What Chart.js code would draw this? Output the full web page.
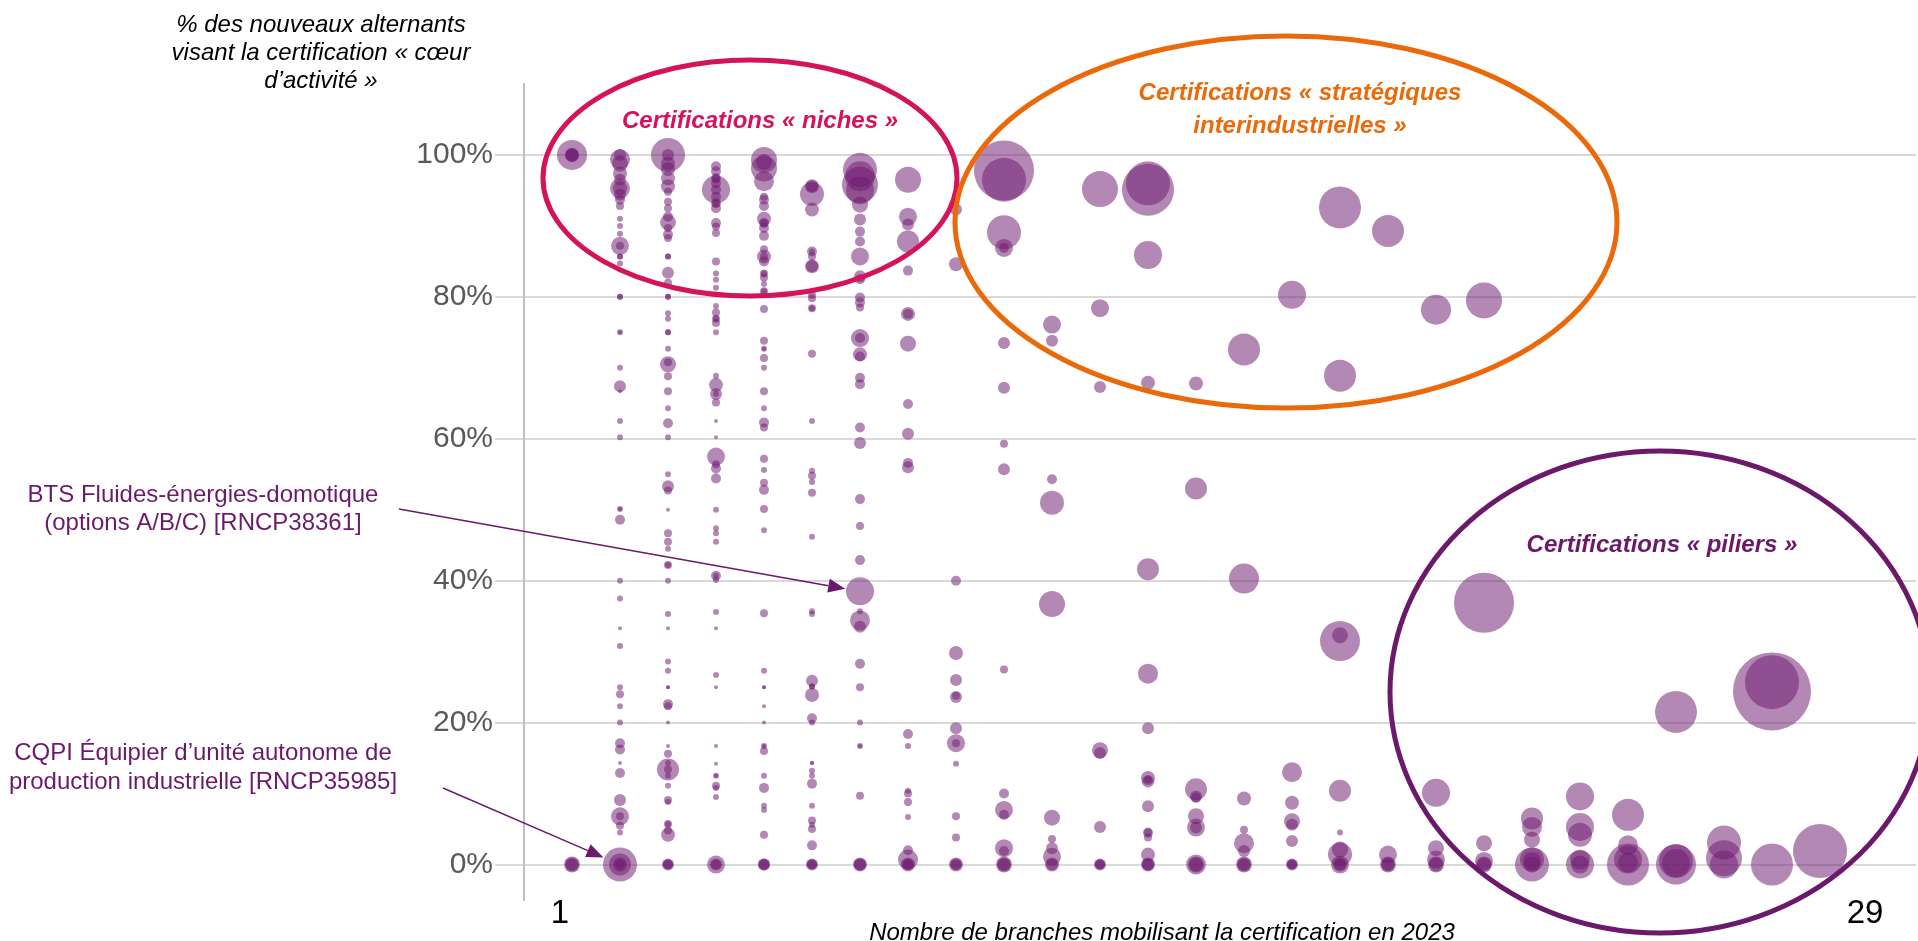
<!DOCTYPE html>
<html lang="fr">
<head>
<meta charset="utf-8">
<title>Certifications par nombre de branches</title>
<script src="https://cdn.jsdelivr.net/npm/chart.js@4.4.1/dist/chart.umd.min.js"></script>
<style>
  html, body { margin: 0; padding: 0; background: #fff; overflow: hidden; }
  canvas { display: block; }
</style>
</head>
<body>
<canvas id="bubbleChart" width="1918" height="941"></canvas>
<script>
// nombre de branches mobilisant la certification (axe x)
const branchCounts = [1, 2, 3, 4, 5, 6, 7, 8, 9, 10, 11, 12, 13, 14, 15, 16, 17, 18, 19, 20, 21, 22, 23, 24, 25, 26, 27];

// part des nouveaux alternants visant la certification « coeur d'activité » (%), une ligne par colonne
const shares = [
    [100, 100, 100, 100, 0, 0, 0],
    [99.4, 98.8, 100, 97.4, 96.5, 95.3, 95.3, 94.4, 93.7, 92.8, 91, 90, 88.9, 87.2, 87.2, 85.7, 85.7, 84.7, 80, 80, 75, 75, 70, 67.4, 66.7, 62.5, 60.2, 50.1, 50.1, 48.6, 40, 37.5, 33.3, 30.8, 25, 24, 22.3, 20, 17.1, 16.2, 14.3, 12.9, 9.1, 6.8, 6.8, 5.5, 4.5, 0, 0, 0, 0],
    [100, 100, 98.8, 98, 96.7, 95.6, 94.8, 93.4, 92.5, 91.3, 90.5, 89.7, 88.8, 88.3, 85.7, 85.7, 83.4, 82, 80, 80, 77.7, 76.9, 75, 75, 72.7, 70.5, 70.8, 68.8, 66.7, 64.3, 62.2, 60.2, 55, 53.3, 52.7, 50, 46.7, 45.5, 44.5, 42.2, 42.2, 40, 35.3, 33.3, 28.6, 27.3, 25, 25, 22.6, 22.3, 20, 16.7, 15.6, 13.4, 13.4, 14.3, 12.5, 11.1, 9.1, 8.8, 5.7, 5.7, 4.8, 4.2, 0, 0, 0],
    [98.4, 97.7, 96.7, 96.7, 96, 95.1, 95.1, 94.1, 93.2, 93.2, 92.5, 90.4, 89.9, 89, 85, 83.3, 82.4, 81.3, 78.7, 77.8, 76.9, 76.9, 76.3, 75, 68.9, 67.6, 66.3, 66.3, 65.1, 62.5, 60.2, 57.5, 56.4, 55.8, 54.4, 50, 47.4, 46.7, 45.5, 40.7, 40.7, 40.1, 35.6, 33.3, 26.7, 25, 16.7, 14.2, 12.5, 12.5, 11.1, 10.8, 9.5, 0, 0, 0],
    [99.3, 98.1, 99, 96.3, 94.1, 93.7, 92.8, 91, 90.4, 90.4, 89.7, 88.6, 86.7, 85.7, 85.7, 85, 83.3, 83.3, 82.7, 81.8, 80.8, 80.8, 78.3, 73.8, 72.7, 72.7, 71.4, 70, 66.7, 64.3, 62.3, 61.6, 57.2, 55.6, 53.8, 52.8, 50.1, 47.1, 35.4, 27.3, 25, 25, 22.3, 20, 16.7, 16.7, 16, 12.5, 10.8, 8.3, 7.7, 4.2, 0, 0, 0],
    [95.6, 95.6, 94.5, 92.3, 86.4, 86.4, 85.7, 84.3, 84.3, 80.3, 79.8, 78.4, 78.4, 72, 62.5, 55.5, 54.8, 53.9, 52.4, 46.2, 35.7, 35.3, 25.9, 25.1, 25.1, 23.9, 20.6, 20, 14.3, 14.3, 13.2, 12.5, 11.4, 8.3, 6.2, 5.6, 5, 2.7, 0, 0, 0],
    [97.9, 97, 95.8, 95, 93, 90.9, 89.2, 87.8, 85.7, 82.9, 82.5, 79.9, 79.2, 78.5, 74.2, 74.2, 71.9, 71.6, 68.6, 67.7, 61.6, 59.4, 51.5, 47.7, 42.9, 38.5, 35.7, 34.4, 33.5, 28.3, 25, 20, 16.7, 16.7, 9.7, 0, 0, 0],
    [96.5, 91.3, 90.2, 87.8, 83.7, 77.6, 77.6, 73.4, 64.9, 60.7, 56.6, 56, 18.4, 16.7, 10.4, 10, 8.8, 6.7, 2, 0.7, 0, 0, 0],
    [92.3, 84.6, 40, 29.8, 26, 23.8, 23.6, 19.2, 17.1, 17.1, 14.2, 6.8, 3.8, 0, 0, 0],
    [97.8, 96.5, 89.1, 86.9, 86.9, 73.5, 67.2, 59.3, 55.7, 27.5, 10, 7.7, 7, 2.3, 1.9, 0, 0, 0],
    [76.1, 73.8, 54.3, 51, 36.7, 6.6, 3.6, 2.3, 1.1, 0, 0],
    [95.2, 78.4, 67.3, 16.1, 15.7, 5.3, 0, 0, 0],
    [96, 95.1, 85.9, 67.9, 41.6, 26.9, 19.2, 12.2, 11.7, 12, 8.2, 4.5, 4.5, 3.8, 1.4, 0, 0, 0],
    [67.8, 53, 10.6, 9.6, 9.4, 6.8, 5.2, 5.2, 0, 0, 0],
    [72.6, 40.3, 9.3, 4.9, 3, 1.9, 0, 0, 0],
    [80.3, 13, 8.7, 6.1, 5.6, 3.3, 0, 0, 0],
    [92.6, 68.9, 32.3, 31.5, 10.4, 4.5, 2.1, 1.4, 0, 0, 0],
    [89.3, 1.4, 0, 0, 0],
    [78.2, 10.1, 2.3, 0.7, 0, 0],
    [79.5, 36.9, 3, 0.5, 0, 0],
    [6.5, 5.3, 3.5, 0.7, 0.5, 0, 0],
    [9.6, 5.3, 4.2, 0.7, 0, 0],
    [7, 2.7, 0.7, 0.3, 0],
    [21.5, 0.5, 0.2, 0],
    [3.1, 0.9, 0],
    [25.7, 24.4, 0],
    [1.9]
];

// nouveaux alternants par certification (aire des bulles), meme ordre que shares
const apprentices = [
    [225, 49, 49, 36, 64, 49, 36],
    [100, 64, 36, 49, 36, 100, 49, 36, 25, 16, 9, 9, 9, 81, 16, 9, 9, 9, 9, 9, 9, 4, 9, 36, 4, 9, 9, 9, 4, 25, 9, 9, 4, 9, 9, 16, 9, 9, 25, 25, 4, 25, 36, 81, 16, 16, 9, 289, 121, 49, 25],
    [289, 36, 49, 49, 49, 49, 16, 16, 16, 25, 64, 16, 25, 16, 9, 9, 36, 16, 9, 9, 9, 9, 9, 9, 9, 64, 16, 16, 16, 9, 25, 9, 9, 36, 16, 4, 16, 16, 9, 16, 9, 9, 9, 4, 9, 9, 4, 4, 25, 16, 4, 4, 16, 121, 16, 9, 9, 9, 16, 9, 16, 9, 16, 49, 36, 25, 25],
    [25, 25, 25, 16, 25, 196, 25, 25, 25, 16, 25, 25, 16, 16, 16, 9, 9, 9, 9, 16, 16, 9, 16, 9, 9, 49, 36, 9, 16, 4, 4, 81, 16, 25, 25, 9, 9, 9, 9, 25, 9, 9, 9, 4, 9, 4, 4, 4, 9, 4, 16, 9, 9, 81, 36, 25],
    [169, 169, 64, 100, 16, 25, 25, 49, 25, 16, 25, 25, 16, 49, 16, 25, 16, 9, 16, 9, 16, 9, 16, 16, 9, 4, 16, 9, 16, 9, 25, 16, 16, 9, 16, 25, 16, 9, 16, 9, 4, 4, 4, 4, 9, 4, 16, 9, 25, 9, 9, 16, 36, 36, 25],
    [49, 36, 144, 49, 25, 9, 16, 49, 36, 16, 16, 16, 9, 16, 9, 9, 16, 9, 16, 9, 9, 9, 36, 9, 9, 49, 25, 9, 4, 4, 9, 9, 25, 9, 16, 9, 16, 25, 36, 25, 25],
    [289, 225, 324, 196, 64, 36, 25, 25, 81, 36, 25, 25, 25, 16, 81, 25, 49, 25, 25, 25, 25, 36, 25, 16, 25, 196, 9, 100, 36, 25, 16, 9, 9, 4, 16, 49, 36, 36],
    [169, 81, 36, 121, 25, 49, 25, 64, 25, 36, 25, 36, 25, 9, 9, 16, 16, 9, 25, 100, 49, 36, 25],
    [36, 49, 25, 49, 36, 16, 36, 36, 81, 16, 9, 16, 16, 49, 36, 25],
    [900, 484, 289, 81, 25, 36, 36, 16, 36, 16, 25, 81, 25, 81, 25, 64, 49, 36],
    [81, 36, 25, 144, 169, 64, 16, 36, 81, 49, 36],
    [324, 81, 36, 64, 36, 36, 36, 25, 25],
    [484, 676, 196, 49, 121, 100, 36, 49, 36, 16, 36, 25, 16, 16, 49, 49, 36, 36],
    [49, 121, 121, 36, 25, 64, 81, 36, 100, 64, 49],
    [256, 225, 49, 16, 100, 36, 64, 49, 36],
    [196, 100, 49, 64, 36, 36, 36, 25, 25],
    [441, 256, 64, 400, 121, 9, 64, 144, 81, 49, 36],
    [256, 81, 64, 49, 36],
    [225, 196, 64, 81, 64, 49],
    [324, 900, 64, 81, 64, 49],
    [121, 100, 64, 144, 81, 289, 64],
    [196, 196, 144, 100, 196, 81],
    [256, 100, 196, 100, 441],
    [441, 289, 196, 400],
    [289, 324, 196],
    [729, 1521, 441],
    [729]
];

const yTicks = [0, 20, 40, 60, 80, 100];

const purple = '#6b1a6b';
const font = "'Liberation Sans', Arial, sans-serif";

let points = [];
branchCounts.forEach(function (b, i) {
    shares[i].forEach(function (s, j) {
        points.push({ x: b, y: s, r: Math.sqrt(apprentices[i][j]) });
    });
});

function ellipse(ctx, cx, cy, rx, ry, color) {
    ctx.beginPath();
    ctx.ellipse(cx, cy, rx, ry, 0, 0, Math.PI * 2);
    ctx.strokeStyle = color;
    ctx.lineWidth = 5;
    ctx.stroke();
}

function lines(ctx, texts, cx, cy, lh, style, color) {
    ctx.font = style;
    ctx.fillStyle = color;
    ctx.textAlign = 'center';
    ctx.textBaseline = 'middle';
    texts.forEach(function (t, i) {
        ctx.fillText(t, cx, cy + i * lh);
    });
}

function arrow(ctx, x0, y0, tx, ty, r) {
    let dx = tx - x0, dy = ty - y0;
    let len = Math.sqrt(dx * dx + dy * dy);
    let ux = dx / len, uy = dy / len;
    let ex = tx - ux * (r + 1), ey = ty - uy * (r + 1);
    let hl = 17, hw = 7;
    ctx.strokeStyle = purple;
    ctx.fillStyle = purple;
    ctx.lineWidth = 1.5;
    ctx.beginPath();
    ctx.moveTo(x0, y0);
    ctx.lineTo(ex - ux * hl, ey - uy * hl);
    ctx.stroke();
    ctx.beginPath();
    ctx.moveTo(ex, ey);
    ctx.lineTo(ex - ux * hl - uy * hw, ey - uy * hl + ux * hw);
    ctx.lineTo(ex - ux * hl + uy * hw, ey - uy * hl - ux * hw);
    ctx.closePath();
    ctx.fill();
}

const annotations = {
    id: 'annotations',
    afterDraw(chart) {
        const ctx = chart.ctx;
        const x = chart.scales.x, y = chart.scales.y;
        ctx.save();

        // groupes de certifications
        ellipse(ctx, 750, 178, 207, 118, '#d4145a');
        ellipse(ctx, 1286, 222, 331, 186, '#ea6a0b');
        ellipse(ctx, 1660, 692, 270, 241, purple);
        lines(ctx, ['Certifications « niches »'], 760, 121, 0, 'italic bold 24px ' + font, '#d4145a');
        lines(ctx, ['Certifications « stratégiques', 'interindustrielles »'], 1300, 93, 33, 'italic bold 24px ' + font, '#ea6a0b');
        lines(ctx, ['Certifications « piliers »'], 1662, 545, 0, 'italic bold 24px ' + font, purple);

        // titres d'axes
        lines(ctx, ['% des nouveaux alternants', 'visant la certification « cœur', 'd’activité »'], 321, 25, 28, 'italic 24px ' + font, '#000');
        lines(ctx, ['Nombre de branches mobilisant la certification en 2023'], 1162, 933, 0, 'italic 24px ' + font, '#000');
        lines(ctx, ['1'], 560, 914, 0, '33px ' + font, '#000');
        lines(ctx, ['29'], 1865, 914, 0, '33px ' + font, '#000');

        // exemples annotés
        lines(ctx, ['BTS Fluides-énergies-domotique', '(options A/B/C) [RNCP38361]'], 203, 495, 28, '24px ' + font, purple);
        lines(ctx, ['CQPI Équipier d’unité autonome de', 'production industrielle [RNCP35985]'], 203, 753, 29, '24px ' + font, purple);
        arrow(ctx, 399, 509, x.getPixelForValue(7), y.getPixelForValue(38.5), 14);
        arrow(ctx, 443, 788, x.getPixelForValue(2), y.getPixelForValue(0), 17);

        ctx.restore();
    }
};

const config = {
    type: 'bubble',
    data: {
        datasets: [{
            label: 'certifications',
            data: points,
            backgroundColor: 'rgba(112, 26, 112, 0.52)',
            borderWidth: 0,
            hoverRadius: 0,
            clip: false
        }]
    },
    options: {
        responsive: false,
        animation: false,
        events: [],
        layout: { autoPadding: false, padding: { top: 84, right: 2, bottom: 41, left: 0 } },
        plugins: {
            legend: { display: false },
            tooltip: { enabled: false }
        },
        scales: {
            x: {
                type: 'linear',
                min: 0,
                max: 29,
                display: false
            },
            y: {
                min: -5,
                max: 110,
                afterBuildTicks: function (scale) {
                    scale.ticks = yTicks.map(function (v) { return { value: v }; });
                },
                afterFit: function (scale) {
                    scale.width = 524;
                },
                grid: { color: '#d9d9d9', lineWidth: 2, drawTicks: true, tickLength: 29, tickColor: '#d9d9d9' },
                border: { display: true, color: '#bfbfbf', width: 2 },
                ticks: {
                    padding: 2,
                    color: '#595959',
                    font: { family: font, size: 30 },
                    callback: function (v) { return v + '%'; }
                }
            }
        }
    },
    plugins: [annotations]
};

let bubbleChart = new Chart(document.getElementById('bubbleChart'), config);
</script>
</body>
</html>
